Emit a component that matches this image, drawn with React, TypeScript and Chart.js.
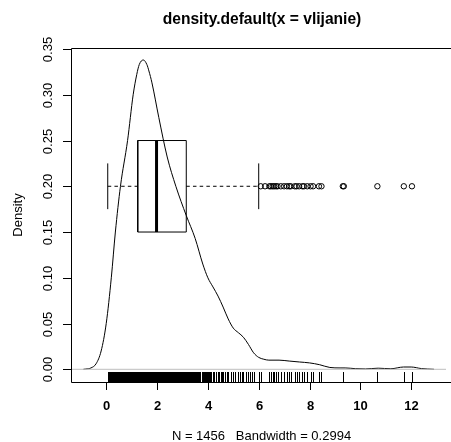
import React, { useEffect, useRef } from "react";
import { Chart, registerables } from "chart.js";

Chart.register(...registerables);

const titleText = "density.default(x = vlijanie)";
const subText = "N = 1456   Bandwidth = 0.2994";
const yTitle = "Density";

const xTicks = [0, 2, 4, 6, 8, 10, 12];
const yTicks = [0, 0.05, 0.1, 0.15, 0.2, 0.25, 0.3, 0.35];
const yTickLabels = ["0.00", "0.05", "0.10", "0.15", "0.20", "0.25", "0.30", "0.35"];

const densityX = [-0.9, -0.8, -0.6, -0.4, -0.2, 0.0, 0.2, 0.36, 0.56, 0.84, 1.06, 1.2, 1.3, 1.46, 1.6, 1.68, 1.8, 2.07, 2.4, 2.74, 3.15, 3.5, 3.8, 4.0, 4.2, 4.4, 4.6, 4.8, 5.0, 5.2, 5.4, 5.6, 5.8, 6.0, 6.2, 6.4, 6.8, 7.2, 7.6, 8.0, 8.4, 8.8, 9.2, 9.4, 9.8, 10.2, 10.7, 11.2, 11.7, 12.0, 12.4, 12.9];
const densityY = [0, 0.0003, 0.0015, 0.006, 0.02, 0.05, 0.1, 0.15, 0.2, 0.25, 0.3, 0.322, 0.333, 0.338, 0.333, 0.326, 0.313, 0.275, 0.232, 0.2, 0.168, 0.143, 0.115, 0.1, 0.09, 0.08, 0.068, 0.055, 0.045, 0.04, 0.035, 0.027, 0.018, 0.013, 0.011, 0.01, 0.01, 0.009, 0.008, 0.007, 0.005, 0.002, 0.0015, 0.0015, 0.0007, 0.0004, 0.0012, 0.0006, 0.0025, 0.0025, 0.0008, 0];

// lower whisker, Q1, median, Q3, upper whisker
const boxStats = [0.06, 1.24, 1.98, 3.15, 6.0];
const boxCenter = 0.2;
const outliers = [6.08, 6.25, 6.42, 6.48, 6.55, 6.61, 6.68, 6.74, 6.87, 7.0, 7.11, 7.2, 7.26, 7.42, 7.49, 7.59, 7.72, 7.78, 7.91, 8.04, 8.14, 8.37, 8.47, 9.31, 9.35, 10.67, 11.71, 12.03];

const rugValues = [
  0.06, 0.09, 0.12, 0.16, 0.19, 0.22, 0.26, 0.29, 0.32, 0.36, 0.39, 0.42, 0.46, 0.49, 0.52, 0.56, 0.59, 0.62, 0.66, 0.69,
  0.72, 0.76, 0.79, 0.82, 0.86, 0.89, 0.92, 0.96, 0.99, 1.02, 1.06, 1.09, 1.12, 1.16, 1.19, 1.22, 1.26, 1.29, 1.32, 1.36,
  1.39, 1.42, 1.46, 1.49, 1.52, 1.56, 1.59, 1.62, 1.66, 1.69, 1.72, 1.76, 1.79, 1.82, 1.86, 1.89, 1.92, 1.96, 1.99, 2.02,
  2.06, 2.09, 2.12, 2.16, 2.19, 2.22, 2.26, 2.29, 2.32, 2.36, 2.39, 2.42, 2.46, 2.49, 2.52, 2.56, 2.59, 2.62, 2.66, 2.69,
  2.72, 2.76, 2.79, 2.82, 2.86, 2.89, 2.92, 2.96, 2.99, 3.02, 3.06, 3.09, 3.12, 3.16, 3.19, 3.22, 3.26, 3.29, 3.32, 3.36,
  3.39, 3.42, 3.46, 3.49, 3.52, 3.56, 3.59, 3.62,
  3.66, 3.7, 3.75, 3.8, 3.83, 3.88, 3.92, 3.96, 4.0, 4.05,
  4.1, 4.14, 4.2, 4.25, 4.3, 4.33, 4.4, 4.45, 4.5, 4.55, 4.6, 4.66, 4.75, 4.8, 4.92, 5.0, 5.08, 5.2, 5.25, 5.33,
  5.4, 5.5, 5.58, 5.67, 5.75, 5.83, 6.0, 6.08, 6.42, 6.48, 6.55, 6.61, 6.68, 6.74, 6.87, 7.0, 7.11, 7.2, 7.26, 7.42,
  7.49, 7.59, 7.72, 7.78, 7.91, 8.04, 8.14, 8.37, 8.47, 9.31, 10.67, 11.71, 12.03,
];

const X_MIN = -1.386;
const X_MAX = 13.37;
const Y_MIN = -0.01388;
const Y_MAX = 0.3511;

const FONT = "'Liberation Sans', Arial, Helvetica, sans-serif";

const line = (pts: { x: number; y: number }[], extra: any = {}) => ({
  type: "line" as const,
  data: pts,
  borderColor: "#000",
  borderWidth: 1,
  pointRadius: 0,
  fill: false,
  tension: 0,
  ...extra,
});

const decorPlugin = {
  id: "decor",
  afterDatasetsDraw(chart: any) {
    const { ctx, chartArea: a, scales } = chart;
    const xs = scales.x;
    const ys = scales.y;
    ctx.save();
    // rug
    ctx.strokeStyle = "#000";
    ctx.lineWidth = 1;
    for (const v of rugValues) {
      const px = Math.round(xs.getPixelForValue(v)) + 0.5;
      ctx.beginPath();
      ctx.moveTo(px, a.bottom);
      ctx.lineTo(px, a.bottom - 10);
      ctx.stroke();
    }
    // box frame (left, top, bottom; right is outside)
    ctx.lineWidth = 1;
    ctx.beginPath();
    ctx.moveTo(a.right + 5, Math.round(a.top) + 0.5);
    ctx.lineTo(Math.round(a.left) + 0.5, Math.round(a.top) + 0.5);
    ctx.lineTo(Math.round(a.left) + 0.5, Math.round(a.bottom) + 0.5);
    ctx.lineTo(a.right + 5, Math.round(a.bottom) + 0.5);
    ctx.stroke();
    // x ticks
    ctx.fillStyle = "#000";
    ctx.font = `bold 13px ${FONT}`;
    ctx.textAlign = "center";
    ctx.textBaseline = "alphabetic";
    for (const t of xTicks) {
      const px = Math.round(xs.getPixelForValue(t)) + 0.5;
      ctx.beginPath();
      ctx.moveTo(px, Math.round(a.bottom) + 0.5);
      ctx.lineTo(px, a.bottom + 8);
      ctx.stroke();
      ctx.fillText(String(t), px, 410);
    }
    // y ticks
    ctx.font = `13px ${FONT}`;
    yTicks.forEach((t, i) => {
      const py = Math.round(ys.getPixelForValue(t)) + 0.5;
      ctx.beginPath();
      ctx.moveTo(Math.round(a.left) + 0.5, py);
      ctx.lineTo(a.left - 8, py);
      ctx.stroke();
      ctx.save();
      ctx.translate(52, py);
      ctx.rotate(-Math.PI / 2);
      ctx.fillText(yTickLabels[i], 0, 0);
      ctx.restore();
    });
    // y title
    ctx.save();
    ctx.translate(21.5, (a.top + a.bottom) / 2);
    ctx.rotate(-Math.PI / 2);
    ctx.fillText(yTitle, 0, 0);
    ctx.restore();
    // main title
    ctx.font = `bold 15.6px ${FONT}`;
    ctx.fillText(titleText, 262, 23.5);
    // subtitle
    ctx.font = `13px ${FONT}`;
    ctx.fillText(subText, 261.5, 440);
    ctx.restore();
  },
};

export default function App() {
  const ref = useRef<HTMLCanvasElement | null>(null);
  useEffect(() => {
    document.body.style.margin = "0";
    if (!ref.current) return;
    const [lw, q1, med, q3, uw] = boxStats;
    const lo = boxCenter - 0.05;
    const hi = boxCenter + 0.05;
    const cLo = boxCenter - 0.025;
    const cHi = boxCenter + 0.025;
    const chart = new Chart(ref.current, {
      type: "scatter",
      data: {
        datasets: [
          {
            type: "scatter",
            data: outliers.map((v) => ({ x: v, y: boxCenter })),
            pointRadius: 2.7,
            pointBorderWidth: 1,
            borderColor: "#000",
            backgroundColor: "rgba(0,0,0,0)",
            pointBackgroundColor: "rgba(0,0,0,0)",
            order: 1,
          } as any,
          line([{ x: q1, y: lo }, { x: q3, y: lo }, { x: q3, y: hi }, { x: q1, y: hi }, { x: q1, y: lo }], { order: 2 }),
          line([{ x: med, y: lo }, { x: med, y: hi }], { borderWidth: 3, order: 2 }),
          line([{ x: lw, y: boxCenter }, { x: q1, y: boxCenter }], { borderDash: [3.5, 3.2], order: 2 }),
          line([{ x: q3, y: boxCenter }, { x: uw, y: boxCenter }], { borderDash: [3.5, 3.2], order: 2 }),
          line([{ x: lw, y: cLo }, { x: lw, y: cHi }], { order: 2 }),
          line([{ x: uw, y: cLo }, { x: uw, y: cHi }], { order: 2 }),
          line([{ x: X_MIN, y: 0 }, { x: X_MAX, y: 0 }], { borderColor: "#bebebe", order: 3 }),
          line(
            densityX.map((x, i) => ({ x, y: densityY[i] })),
            { cubicInterpolationMode: "monotone", order: 4 }
          ),
        ],
      },
      options: {
        responsive: false,
        animation: false,
        devicePixelRatio: 1,
        layout: { padding: { top: 48, left: 0, right: 0, bottom: 0 } },
        plugins: { legend: { display: false }, tooltip: { enabled: false }, title: { display: false } },
        scales: {
          x: {
            type: "linear",
            min: X_MIN,
            max: X_MAX,
            ticks: { display: false },
            grid: { display: false },
            border: { display: false },
            afterFit: (s: any) => {
              s.height = 60;
            },
          },
          y: {
            type: "linear",
            min: Y_MIN,
            max: Y_MAX,
            ticks: { display: false },
            grid: { display: false },
            border: { display: false },
            afterFit: (s: any) => {
              s.width = 71;
            },
          },
        },
      },
      plugins: [decorPlugin],
    } as any);
    return () => chart.destroy();
  }, []);
  return (
    <div style={{ position: "absolute", left: 0, top: 0, width: 451, height: 442, background: "#fff" }}>
      <canvas ref={ref} width={451} height={442} style={{ display: "block" }} />
    </div>
  );
}
